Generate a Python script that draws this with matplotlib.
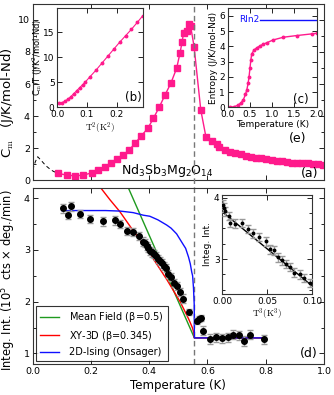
import matplotlib
matplotlib.use("Agg")
import matplotlib.pyplot as plt
from matplotlib.ticker import MultipleLocator
from matplotlib.transforms import blended_transform_factory

plt.rcParams['font.family'] = ['DejaVu Sans']
plt.rcParams['mathtext.fontset'] = 'cm'
plt.rcParams['mathtext.default'] = 'regular'

# ---- data ----
Tc = 0.555

# (a) heat capacity
cm_T = [0.088, 0.117, 0.145, 0.174, 0.203, 0.225, 0.248, 0.269, 0.290, 0.311, 0.331,
        0.351, 0.372, 0.395, 0.414, 0.434, 0.454, 0.474, 0.494, 0.506, 0.513, 0.518,
        0.530, 0.536, 0.542, 0.554, 0.577, 0.595, 0.614, 0.632, 0.641, 0.660, 0.677,
        0.695, 0.714, 0.731, 0.748, 0.766, 0.784, 0.801, 0.820, 0.838, 0.855, 0.872,
        0.891, 0.908, 0.926, 0.944, 0.961, 0.978, 0.995]
cm_C = [0.42, 0.31, 0.27, 0.31, 0.46, 0.63, 0.83, 1.04, 1.29, 1.56, 1.88,
        2.29, 2.75, 3.23, 3.85, 4.54, 5.31, 6.04, 6.98, 7.96, 8.65, 9.20,
        9.33, 9.75, 9.63, 8.33, 4.38, 2.67, 2.46, 2.25, 2.04, 1.88, 1.77,
        1.67, 1.60, 1.52, 1.46, 1.40, 1.35, 1.31, 1.25, 1.21, 1.19, 1.15,
        1.10, 1.08, 1.06, 1.04, 1.02, 1.00, 0.97]
sch_T = [0.0, 0.009, 0.017, 0.028, 0.045, 0.063, 0.076]
sch_C = [0.63, 1.15, 1.46, 1.25, 0.90, 0.63, 0.50]

# (b) Cm/T vs T^2
b_T2 = [0.005, 0.015, 0.025, 0.035, 0.045, 0.055, 0.065, 0.075, 0.085, 0.095, 0.11,
        0.13, 0.15, 0.17, 0.19, 0.21, 0.23, 0.25, 0.27, 0.288]
b_CT = [0.8, 0.9, 1.2, 1.6, 2.1, 2.7, 3.3, 3.9, 4.5, 5.1, 6.1,
        7.4, 8.8, 10.2, 11.6, 13.0, 14.3, 15.6, 17.0, 18.3]

# (c) entropy
s_T = [0.05, 0.15, 0.24, 0.30, 0.35, 0.40, 0.43, 0.46, 0.48, 0.50, 0.52, 0.54, 0.59,
       0.65, 0.73, 0.80, 0.88, 1.02, 1.25, 1.55, 1.89, 2.0]
s_S = [0.0, 0.04, 0.15, 0.30, 0.48, 0.85, 1.14, 1.6, 2.0, 2.55, 3.1, 3.5, 3.75,
       3.9, 4.04, 4.14, 4.24, 4.42, 4.6, 4.71, 4.82, 4.86]
rln2 = 5.76

# (d) integrated intensity
d_T = [0.103, 0.121, 0.132, 0.164, 0.198, 0.241, 0.282, 0.301, 0.322, 0.345, 0.366,
       0.377, 0.385, 0.391, 0.397, 0.402, 0.408, 0.416, 0.423, 0.431, 0.437, 0.443,
       0.451, 0.458, 0.466, 0.474, 0.485, 0.494, 0.506, 0.515, 0.535, 0.563, 0.571,
       0.577, 0.586, 0.609, 0.630, 0.649, 0.670, 0.687, 0.707, 0.726, 0.745, 0.795]
d_I = [3.80, 3.67, 3.84, 3.69, 3.59, 3.55, 3.57, 3.50, 3.37, 3.35, 3.27,
       3.16, 3.13, 3.08, 3.04, 2.98, 2.95, 2.92, 2.88, 2.83, 2.78, 2.74,
       2.69, 2.65, 2.54, 2.47, 2.36, 2.30, 2.19, 2.06, 1.80, 1.62, 1.66,
       1.68, 1.44, 1.28, 1.31, 1.29, 1.31, 1.36, 1.35, 1.24, 1.36, 1.27]
d_err = [0.08] * 30 + [0.06, 0.06, 0.06, 0.06, 0.09, 0.09, 0.09, 0.09, 0.09,
                       0.09, 0.09, 0.09, 0.09, 0.09]

mf_T = [0.30, 0.555, 0.80]
mf_I = [4.56, 1.30, 1.30]
xy_T = [0.22, 0.236, 0.265, 0.299, 0.345, 0.402, 0.460, 0.506, 0.535, 0.548, 0.553, 0.555, 0.80]
xy_I = [4.30, 4.18, 3.97, 3.74, 3.37, 2.93, 2.43, 2.00, 1.67, 1.50, 1.40, 1.30, 1.30]
on_T = [0.10, 0.25, 0.30, 0.345, 0.38, 0.402, 0.43, 0.46, 0.475, 0.494, 0.505, 0.516,
        0.525, 0.535, 0.541, 0.546, 0.549, 0.552, 0.5545, 0.555, 0.80]
on_I = [3.76, 3.76, 3.75, 3.72, 3.67, 3.65, 3.58, 3.48, 3.42, 3.31, 3.21, 3.11,
        3.03, 2.86, 2.73, 2.57, 2.50, 2.26, 1.94, 1.30, 1.30]

# (d) inset: intensity vs T^3
i_T3 = [0.001, 0.002, 0.003, 0.007, 0.008, 0.014, 0.022, 0.028, 0.034, 0.041, 0.049,
        0.053, 0.057, 0.062, 0.066, 0.071, 0.075, 0.080, 0.086, 0.091, 0.097]
i_I = [3.89, 3.84, 3.78, 3.70, 3.59, 3.58, 3.59, 3.49, 3.42, 3.36, 3.29,
       3.16, 3.14, 3.03, 2.98, 2.92, 2.87, 2.78, 2.75, 2.69, 2.61]
i_fitx = [0.0, 0.1]
i_fity = [3.77, 2.56]

pink = '#ff1a8c'
ecol = '#9a9a9a'

fig = plt.figure(figsize=(3.34, 3.95), dpi=100)


def style(ax, ls=6.8):
    ax.tick_params(which='both', direction='in', top=True, right=True, labelsize=ls,
                   pad=2, width=0.6)
    ax.tick_params(which='major', length=3.5)
    ax.tick_params(which='minor', length=2)
    for s in ax.spines.values():
        s.set_linewidth(0.8)
        s.set_color('#333333')


# ---- (a) ----
axa = fig.add_axes([0.098, 0.544, 0.872, 0.446])
axa.plot(cm_T, cm_C, '-s', color=pink, ms=4.2, lw=1.0, mec=pink)
axa.plot(sch_T, sch_C, '--', color='black', lw=0.7, dashes=(4, 3))
axa.set_xlim(0, 1.0)
axa.set_ylim(0, 11)
axa.xaxis.set_major_locator(MultipleLocator(0.2))
axa.yaxis.set_major_locator(MultipleLocator(2))
axa.yaxis.set_minor_locator(MultipleLocator(1))
axa.set_xticklabels([])
style(axa)
axa.set_ylabel(r'C$_{\rm m}$   (J/K/mol-Nd)', fontsize=9.5)
axa.yaxis.set_label_coords(-0.058, 0.44)
axa.text(0.461, 0.057, r'Nd$_3$Sb$_3$Mg$_2$O$_{14}$', transform=axa.transAxes,
         ha='center', va='center', fontsize=9)
axa.text(0.952, 0.04, '(a)', transform=axa.transAxes, ha='center', va='center', fontsize=9)
axa.text(0.911, 0.239, '(e)', transform=axa.transAxes, ha='center', va='center', fontsize=9)

# ---- (d) ----
axd = fig.add_axes([0.098, 0.0777, 0.872, 0.4456])
axd.errorbar(d_T, d_I, yerr=d_err, fmt='o', color='black', ms=4, ecolor=ecol,
             elinewidth=1.0, capsize=2, capthick=1.0, zorder=3)
axd.plot(mf_T, mf_I, color='#1f9a1f', lw=1.0, label=r'Mean Field ($\beta$=0.5)')
axd.plot(xy_T, xy_I, color='#ff0000', lw=1.0, label=r'XY-3D ($\beta$=0.345)')
axd.plot(on_T, on_I, color='#1010ff', lw=1.0, label='2D-Ising (Onsager)')
axd.set_xlim(0, 1.0)
axd.set_ylim(0.79, 4.19)
axd.xaxis.set_major_locator(MultipleLocator(0.2))
axd.yaxis.set_major_locator(MultipleLocator(1))
axd.yaxis.set_minor_locator(MultipleLocator(0.5))
style(axd)
axd.set_xlabel('Temperature (K)', fontsize=8.5, labelpad=2)
axd.set_ylabel(r'Integ. Int. (10$^5$  cts $\times$ deg./min)', fontsize=8.3)
axd.yaxis.set_label_coords(-0.05, 0.48)
leg = axd.legend(loc='lower left', fontsize=7, fancybox=False, handlelength=2.0,
                 borderaxespad=0.3, labelspacing=0.45, borderpad=0.45, handletextpad=1.0)
leg.get_frame().set_edgecolor('black')
leg.get_frame().set_linewidth(0.8)
axd.text(0.949, 0.064, '(d)', transform=axd.transAxes, ha='center', va='center', fontsize=9)

# dashed transition line across both panels
tr = blended_transform_factory(axd.transData, fig.transFigure)
axd.plot([Tc, Tc], [0.0777, 0.99], transform=tr, clip_on=False, color='#777777',
         ls='--', lw=1.0, dashes=(4, 2.5), zorder=1)

# ---- (b) inset ----
axb = fig.add_axes([0.1716, 0.7284, 0.2557, 0.2506])
axb.plot(b_T2, b_CT, '-o', color=pink, ms=1.8, lw=0.8)
axb.set_xlim(0, 0.288)
axb.set_ylim(0, 19.8)
axb.xaxis.set_major_locator(MultipleLocator(0.1))
axb.yaxis.set_major_locator(MultipleLocator(5))
style(axb, 6.5)
axb.set_xlabel(r'$\mathrm{T^2(K^2)}$', fontsize=6.5, labelpad=1)
axb.set_ylabel(r'C$_{\rm m}$/T (J/K$^2$/mol-Nd)', fontsize=6)
axb.yaxis.set_label_coords(-0.15, 0.5)
axb.text(0.89, 0.1, '(b)', transform=axb.transAxes, ha='center', va='center', fontsize=8.5)

# ---- (c) inset ----
axc = fig.add_axes([0.6817, 0.7284, 0.2665, 0.2506])
axc.plot(s_T, s_S, '-o', color=pink, ms=1.8, lw=1.0)
axc.plot([0.73, 2.0], [rln2, rln2], color='#1010ff', lw=1.0)
axc.text(0.72, rln2, 'Rln2', color='#1010ff', fontsize=6.5, ha='right', va='center')
axc.set_xlim(0, 2.0)
axc.set_ylim(0, 6.5)
axc.xaxis.set_major_locator(MultipleLocator(0.5))
axc.yaxis.set_major_locator(MultipleLocator(1))
style(axc, 6.5)
axc.set_xlabel('Temperature (K)', fontsize=6.5, labelpad=1)
axc.set_ylabel('Entropy (J/K/mol-Nd)', fontsize=6.5, labelpad=1)
axc.text(0.82, 0.08, '(c)', transform=axc.transAxes, ha='center', va='center', fontsize=8.5)

# ---- (d) inset ----
axi = fig.add_axes([0.6656, 0.2557, 0.2695, 0.2514])
axi.errorbar(i_T3, i_I, yerr=0.07, fmt='o', color='black', ms=1.8, ecolor=ecol,
             elinewidth=1.0, capsize=2, capthick=1.0, zorder=3)
axi.plot(i_fitx, i_fity, color='black', lw=1.0)
axi.set_xlim(0, 0.1)
axi.set_ylim(2.43, 4.05)
axi.xaxis.set_major_locator(MultipleLocator(0.05))
axi.yaxis.set_major_locator(MultipleLocator(1))
axi.yaxis.set_minor_locator(MultipleLocator(0.25))
style(axi, 6.5)
axi.set_xlabel(r'$\mathrm{T^3(K^3)}$', fontsize=6.5, labelpad=1)
axi.set_ylabel('Integ. Int.', fontsize=6.5, labelpad=1)

fig.savefig('out.png', dpi=100)
